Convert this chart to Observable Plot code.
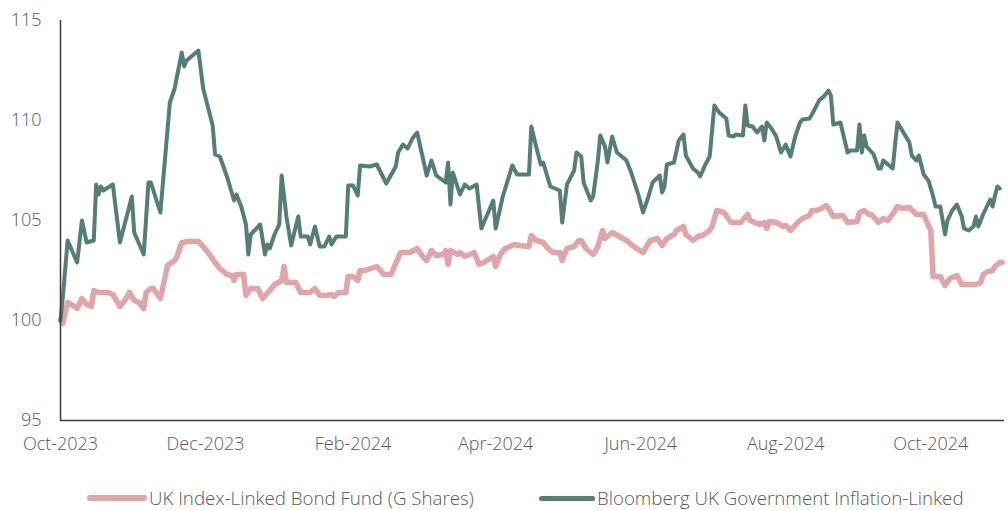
<!DOCTYPE html>
<html>
<head>
<meta charset="utf-8">
<script src="https://cdn.jsdelivr.net/npm/d3@7"></script>
<script src="https://cdn.jsdelivr.net/npm/@observablehq/plot@0.6"></script>
<style>
  html, body { margin: 0; padding: 0; background: #fff; overflow: hidden; }
  body { width: 1008px; height: 510px; position: relative; font-family: "Open Sans", sans-serif; font-weight: 300; color: #595959; }
  #chart svg { display: block; }
  .legend-item { position: absolute; display: flex; align-items: center; font-size: 18.7px; line-height: 22px; white-space: nowrap; color: #595959; }
  .swatch { display: inline-block; border-radius: 3px; margin-right: 2px; }
</style>
</head>
<body>
<div id="chart"></div>
<div class="legend-item" style="left:87px; top:487px;"><span class="swatch" style="width:60px;height:6px;background:#dfa5a8;"></span>UK Index-Linked Bond Fund (G Shares)</div>
<div class="legend-item" style="left:539px; top:487px;"><span class="swatch" style="width:56px;height:5px;background:#557f76;"></span>Bloomberg UK Government Inflation-Linked</div>
<script>
const seriesNames = ["UK Index-Linked Bond Fund (G Shares)", "Bloomberg UK Government Inflation-Linked"];
const xTickDates = ["2023-10-01", "2023-12-01", "2024-02-01", "2024-04-01", "2024-06-01", "2024-08-01", "2024-10-01"];
const xTickLabelFormat = "%b-%Y";
const yTicks = [95, 100, 105, 110, 115];

const pinkDates = ["2023-10-01","2023-10-02","2023-10-04","2023-10-07","2023-10-08","2023-10-10","2023-10-12","2023-10-14","2023-10-15","2023-10-17","2023-10-18","2023-10-21","2023-10-23","2023-10-26","2023-10-28","2023-10-30","2023-11-01","2023-11-03","2023-11-05","2023-11-06","2023-11-08","2023-11-09","2023-11-12","2023-11-15","2023-11-18","2023-11-19","2023-11-21","2023-11-22","2023-11-23","2023-11-28","2023-11-30","2023-12-03","2023-12-05","2023-12-07","2023-12-10","2023-12-12","2023-12-13","2023-12-14","2023-12-17","2023-12-18","2023-12-20","2023-12-23","2023-12-25","2023-12-28","2023-12-30","2024-01-02","2024-01-03","2024-01-04","2024-01-08","2024-01-10","2024-01-14","2024-01-16","2024-01-18","2024-01-21","2024-01-23","2024-01-24","2024-01-26","2024-01-29","2024-01-30","2024-02-01","2024-02-03","2024-02-04","2024-02-06","2024-02-11","2024-02-14","2024-02-17","2024-02-21","2024-02-25","2024-02-28","2024-03-01","2024-03-03","2024-03-05","2024-03-07","2024-03-10","2024-03-11","2024-03-12","2024-03-13","2024-03-16","2024-03-17","2024-03-19","2024-03-23","2024-03-25","2024-03-27","2024-03-31","2024-04-01","2024-04-03","2024-04-05","2024-04-09","2024-04-11","2024-04-15","2024-04-16","2024-04-18","2024-04-21","2024-04-23","2024-04-25","2024-04-28","2024-04-29","2024-05-01","2024-05-04","2024-05-06","2024-05-07","2024-05-09","2024-05-12","2024-05-14","2024-05-16","2024-05-17","2024-05-20","2024-05-23","2024-05-26","2024-05-29","2024-06-02","2024-06-03","2024-06-05","2024-06-08","2024-06-10","2024-06-12","2024-06-15","2024-06-16","2024-06-19","2024-06-20","2024-06-23","2024-06-25","2024-06-27","2024-06-30","2024-07-01","2024-07-03","2024-07-06","2024-07-09","2024-07-13","2024-07-16","2024-07-17","2024-07-21","2024-07-23","2024-07-24","2024-07-25","2024-07-28","2024-07-31","2024-08-01","2024-08-03","2024-08-06","2024-08-08","2024-08-11","2024-08-12","2024-08-14","2024-08-16","2024-08-18","2024-08-19","2024-08-21","2024-08-25","2024-08-27","2024-08-31","2024-09-01","2024-09-03","2024-09-05","2024-09-06","2024-09-09","2024-09-11","2024-09-13","2024-09-16","2024-09-17","2024-09-19","2024-09-22","2024-09-25","2024-09-28","2024-09-30","2024-10-01","2024-10-02","2024-10-05","2024-10-07","2024-10-09","2024-10-12","2024-10-14","2024-10-18","2024-10-20","2024-10-22","2024-10-23","2024-10-25","2024-10-27","2024-10-28","2024-10-30","2024-10-31"];
const pinkValues = [100.0,99.85,100.9,100.7,100.6,101.1,100.8,100.7,101.5,101.4,101.4,101.4,101.3,100.7,101.0,101.4,101.0,100.9,100.6,101.4,101.6,101.6,101.1,102.75,103.0,103.2,103.9,103.9,103.95,103.95,103.7,103.25,102.9,102.6,102.3,102.25,102.0,102.3,102.3,101.25,101.6,101.6,101.1,101.5,101.8,102.0,102.7,101.9,101.9,101.4,101.4,101.6,101.25,101.25,101.3,101.2,101.4,101.4,102.2,102.2,102.0,102.5,102.5,102.7,102.3,102.3,103.4,103.4,103.6,103.25,103.0,103.5,103.25,103.3,103.5,102.8,103.5,103.3,103.4,103.2,103.4,102.8,102.9,103.2,102.7,103.3,103.6,103.8,103.75,103.7,104.25,104.0,103.9,103.6,103.4,103.4,103.0,103.6,103.7,104.0,104.0,103.6,103.3,103.7,104.5,104.1,104.4,104.2,104.0,103.7,103.4,103.6,104.0,104.1,103.75,104.1,104.3,104.5,104.7,104.3,104.0,104.2,104.25,104.5,104.7,105.5,105.4,104.9,104.9,105.3,105.0,104.8,104.9,104.6,104.95,104.9,104.7,104.75,104.5,104.9,105.1,105.25,105.5,105.5,105.6,105.75,105.6,105.2,105.25,104.9,104.95,105.4,105.5,105.3,105.3,104.9,105.1,105.0,105.5,105.7,105.6,105.65,105.3,105.3,104.75,104.5,102.2,102.2,101.75,102.1,102.25,101.8,101.8,101.8,101.9,102.3,102.45,102.5,102.7,102.9,102.9];

const greenDates = ["2023-10-01","2023-10-02","2023-10-04","2023-10-08","2023-10-10","2023-10-12","2023-10-15","2023-10-16","2023-10-17","2023-10-18","2023-10-19","2023-10-23","2023-10-26","2023-10-31","2023-11-01","2023-11-05","2023-11-07","2023-11-08","2023-11-12","2023-11-16","2023-11-18","2023-11-21","2023-11-22","2023-11-23","2023-11-28","2023-11-30","2023-12-04","2023-12-05","2023-12-07","2023-12-10","2023-12-12","2023-12-13","2023-12-14","2023-12-16","2023-12-18","2023-12-19","2023-12-20","2023-12-24","2023-12-26","2023-12-27","2023-12-28","2023-12-30","2024-01-01","2024-01-02","2024-01-04","2024-01-06","2024-01-09","2024-01-10","2024-01-13","2024-01-14","2024-01-16","2024-01-18","2024-01-20","2024-01-22","2024-01-23","2024-01-25","2024-01-29","2024-01-30","2024-02-01","2024-02-03","2024-02-04","2024-02-08","2024-02-11","2024-02-15","2024-02-19","2024-02-20","2024-02-22","2024-02-24","2024-02-26","2024-02-28","2024-03-03","2024-03-05","2024-03-07","2024-03-11","2024-03-12","2024-03-13","2024-03-14","2024-03-17","2024-03-19","2024-03-21","2024-03-24","2024-03-26","2024-03-31","2024-04-01","2024-04-04","2024-04-08","2024-04-10","2024-04-15","2024-04-16","2024-04-18","2024-04-20","2024-04-21","2024-04-24","2024-04-28","2024-04-29","2024-05-01","2024-05-04","2024-05-05","2024-05-07","2024-05-08","2024-05-11","2024-05-12","2024-05-14","2024-05-15","2024-05-17","2024-05-18","2024-05-20","2024-05-22","2024-05-25","2024-05-26","2024-05-28","2024-05-31","2024-06-02","2024-06-04","2024-06-06","2024-06-09","2024-06-10","2024-06-11","2024-06-12","2024-06-15","2024-06-17","2024-06-19","2024-06-20","2024-06-23","2024-06-25","2024-06-26","2024-06-28","2024-06-30","2024-07-02","2024-07-04","2024-07-07","2024-07-08","2024-07-10","2024-07-11","2024-07-14","2024-07-15","2024-07-16","2024-07-18","2024-07-20","2024-07-22","2024-07-23","2024-07-24","2024-07-26","2024-07-28","2024-07-30","2024-08-01","2024-08-03","2024-08-05","2024-08-07","2024-08-08","2024-08-11","2024-08-12","2024-08-14","2024-08-15","2024-08-17","2024-08-19","2024-08-20","2024-08-21","2024-08-24","2024-08-27","2024-08-28","2024-08-31","2024-09-01","2024-09-02","2024-09-03","2024-09-04","2024-09-07","2024-09-09","2024-09-10","2024-09-11","2024-09-15","2024-09-16","2024-09-17","2024-09-18","2024-09-21","2024-09-22","2024-09-23","2024-09-25","2024-09-26","2024-09-28","2024-09-30","2024-10-02","2024-10-03","2024-10-05","2024-10-07","2024-10-08","2024-10-10","2024-10-12","2024-10-14","2024-10-15","2024-10-17","2024-10-19","2024-10-20","2024-10-21","2024-10-23","2024-10-26","2024-10-27","2024-10-28","2024-10-29","2024-10-30"];
const greenValues = [100.0,101.2,104.0,102.9,105.0,103.9,104.0,106.8,106.3,106.7,106.5,106.8,103.9,106.2,104.4,103.3,106.9,106.9,105.4,110.9,111.6,113.4,112.7,113.0,113.5,111.6,109.75,108.3,108.2,107.2,106.4,106.0,106.3,105.7,104.8,103.3,104.3,104.8,103.3,103.8,103.6,104.3,104.8,107.25,105.2,103.75,105.2,104.2,104.2,103.8,104.7,103.7,103.7,104.2,103.8,104.2,104.2,106.75,106.75,106.25,107.75,107.7,107.8,106.85,107.7,108.4,108.8,108.6,109.1,109.4,107.25,108.0,107.25,106.9,107.9,105.8,107.4,106.3,106.8,106.6,106.8,104.6,106.0,104.6,106.2,107.75,107.3,107.3,109.7,108.7,107.8,107.9,106.7,106.5,104.9,106.8,107.5,108.4,108.2,106.9,106.0,106.2,108.0,109.25,108.7,107.9,109.2,108.4,108.1,108.0,107.4,106.3,105.4,106.1,106.9,107.25,106.4,106.7,107.8,107.9,109.0,109.3,108.25,107.6,107.4,107.2,107.75,108.2,110.75,110.4,110.1,109.25,109.2,109.3,109.25,110.75,109.75,109.7,109.4,109.7,109.0,109.9,109.6,109.2,108.4,108.8,108.2,109.2,109.9,110.05,110.1,110.3,110.75,111.0,111.2,111.5,111.25,109.8,109.9,108.4,108.5,108.5,109.8,108.4,109.25,108.7,108.3,107.6,107.6,108.0,107.6,108.8,109.9,109.7,109.1,108.9,108.25,108.0,108.25,107.3,107.0,106.2,105.7,105.7,104.3,105.0,105.5,105.8,105.2,104.6,104.5,104.7,105.2,104.7,105.3,106.05,105.7,106.25,106.7,106.6];

const parse = d3.utcParse("%Y-%m-%d");
const pink = pinkDates.map((d, i) => ({date: parse(d), value: pinkValues[i], series: seriesNames[0]}));
const green = greenDates.map((d, i) => ({date: parse(d), value: greenValues[i], series: seriesNames[1]}));

const xStart = parse("2023-10-01");
const xEnd = parse("2024-11-01");
const xTicks = xTickDates.map(parse);
const fmt = d3.utcFormat(xTickLabelFormat);

const chart = Plot.plot({
  width: 1008,
  height: 470,
  marginTop: 20,
  marginLeft: 60,
  marginRight: 4,
  marginBottom: 50,
  style: {fontFamily: "'Open Sans', sans-serif", fontSize: "18px", fontWeight: 300, color: "#595959", background: "#fff"},
  x: {type: "utc", domain: [xStart, xEnd], label: null},
  y: {domain: [95, 115], label: null},
  marks: [
    Plot.axisX({ticks: xTicks, tickFormat: fmt, tickSize: 0, tickPadding: 17, label: null, fontSize: 18, fill: "#595959"}),
    Plot.axisY({ticks: yTicks, tickSize: 0, tickPadding: 19, label: null, fontSize: 18, fill: "#595959"}),
    Plot.lineY(pink, {x: "date", y: "value", stroke: "#dfa5a8", strokeWidth: 5.5, strokeLinejoin: "round", strokeLinecap: "round"}),
    Plot.lineY(green, {x: "date", y: "value", stroke: "#557f76", strokeWidth: 4, strokeLinejoin: "round", strokeLinecap: "round"}),
    Plot.ruleY([95], {stroke: "#3a3a3a", strokeWidth: 1.5}),
    Plot.ruleX([xStart], {stroke: "#3a3a3a", strokeWidth: 1.5})
  ]
});
document.getElementById("chart").appendChild(chart);
</script>
</body>
</html>
